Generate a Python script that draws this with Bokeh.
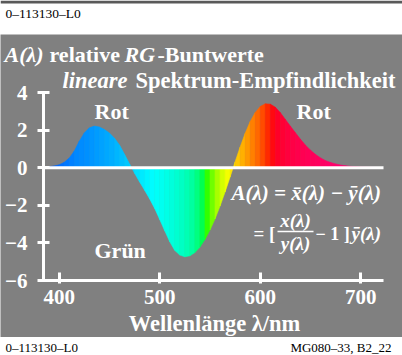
from bokeh.plotting import figure
from bokeh.models import Range1d, Label, FixedTicker, ColumnDataSource
from bokeh.layouts import column
from bokeh.embed import file_html
from bokeh.resources import INLINE

# Relative red-green chromatic values A(lambda), 5 nm steps
wavelengths = list(range(385, 725, 5))
a_values = [
    0.028, 0.051, 0.095, 0.153, 0.288, 0.513, 0.887, 1.411, 1.852,
    2.119, 2.212, 2.164, 2.028, 1.841, 1.569, 1.205, 0.710, 0.201, -0.295,
    -0.757, -1.197, -1.659, -2.163, -2.753, -3.357, -3.938, -4.398, -4.648, -4.736,
    -4.686, -4.512, -4.220, -3.818, -3.318, -2.723, -2.041, -1.291, -0.496, 0.315,
    1.104, 1.831, 2.460, 2.932, 3.256, 3.397, 3.381, 3.219, 2.927, 2.566,
    2.209, 1.856, 1.514, 1.200, 0.932, 0.707, 0.521, 0.377, 0.275, 0.202,
    0.143, 0.099, 0.069, 0.049, 0.035, 0.025, 0.018, 0.013, 0.009,
]
# spectral colour of each 5 nm strip (start wavelength 385 ... 715)
strip_colors = [
    "#0058ff", "#0060ff", "#0068ff", "#0070ff", "#0078ff", "#0080ff", "#0088ff",
    "#008cff", "#0090ff", "#0096ff", "#009cff", "#00a2ff", "#00a8ff", "#00aeff", "#00b6ff",
    "#00beff", "#00c8ff", "#00d4ff", "#00e0ff", "#00eaff", "#00f4ff", "#00fcff", "#00fff8",
    "#00fff0", "#00ffe6", "#00ffdc", "#00ffd0", "#00ffc4", "#00ffb4", "#00ffa0", "#00ff80",
    "#00ff50", "#30ff00", "#70ff00", "#a8ff00", "#d4ff00", "#f4ff00", "#ffe600", "#ffc800",
    "#ffb000", "#ff9800", "#ff8000", "#ff6800", "#ff4c00", "#ff2a00", "#ff0a10", "#ff0028",
    "#ff0034", "#ff003e", "#ff0046", "#ff004c", "#ff0052", "#ff0056", "#ff005a", "#ff005e",
    "#ff0062", "#ff0066", "#ff006a", "#ff006e", "#ff0070", "#ff0072", "#ff0074", "#ff0076",
    "#ff0078", "#ff0078", "#ff0078", "#ff0078",
]
x_ticks = [400, 500, 600, 700]
y_ticks = [-6, -4, -2, 0, 2, 4]
y_tick_labels = {-6: "\u22126", -4: "\u22124", -2: "\u22122", 0: "0", 2: "2", 4: "4"}

X_LO, X_HI = 384.4, 722.6      # extent of the drawn axes (nm)
Y_LO, Y_HI = -6, 4

SERIF = "Liberation Serif"
GRAY = "#808080"
W = 402
BASE_SHIFT = 0.27              # baseline correction, in em


def make_label(x, y, s, size, style="normal", align="left", color="white", **kw):
    return Label(x=x, y=y - BASE_SHIFT * size, text=s, text_font=SERIF,
                 text_font_size=f"{size}px", text_font_style=style, text_color=color,
                 text_align=align, text_baseline="alphabetic", **kw)


# ---------- header strip ----------
head = figure(width=W, height=34, x_range=Range1d(0, W), y_range=Range1d(34, 0),
              x_axis_type=None, y_axis_type=None, toolbar_location=None,
              output_backend="svg", min_border=0, outline_line_color=None,
              background_fill_color="white", border_fill_color="white")
head.xgrid.visible = False
head.ygrid.visible = False
head.quad(left=[0], right=[W], top=[0], bottom=[3], fill_color="#595959", line_color=None)
head.add_layout(make_label(5, 17, "0\u2013113130\u2013L0", 13.5, color="black"))

# ---------- main chart: the frame fills the whole grey panel ----------
p = figure(width=W, height=303, x_range=Range1d(341.6, 741.5), y_range=Range1d(-9.03, 7.085),
           toolbar_location=None, output_backend="svg", min_border=0,
           background_fill_color=GRAY, border_fill_color=GRAY, outline_line_color=None)
p.xgrid.visible = False
p.ygrid.visible = False

# page-pixel helper ranges for text placement
p.extra_x_ranges = {"px": Range1d(0, W)}
p.extra_y_ranges = {"px": Range1d(337, 34)}

xs, ys, cols = [], [], []
for i in range(len(wavelengths) - 1):
    xs.append([wavelengths[i], wavelengths[i], wavelengths[i + 1], wavelengths[i + 1]])
    ys.append([0, a_values[i], a_values[i + 1], 0])
    cols.append(strip_colors[i])
src = ColumnDataSource(dict(xs=xs, ys=ys, color=cols))
p.patches("xs", "ys", source=src, fill_color="color", line_color="color", line_width=0.6)

# zero line
p.segment(x0=[X_LO], y0=[0], x1=[X_HI], y1=[0], line_color="white", line_width=3)

for ax in (p.xaxis[0], p.yaxis[0]):
    ax.axis_line_color = "white"
    ax.axis_line_width = 3
    ax.major_tick_line_color = "white"
    ax.major_tick_line_width = 3
    ax.minor_tick_line_color = None
    ax.major_label_text_color = "white"
    ax.major_label_text_font = SERIF
    ax.major_label_text_font_style = "bold"
    ax.major_label_text_font_size = "21px"

p.xaxis.fixed_location = Y_LO
p.xaxis.bounds = (X_LO, X_HI)
p.xaxis.ticker = FixedTicker(ticks=x_ticks)
p.xaxis.major_tick_in = 8
p.xaxis.major_tick_out = 3
p.xaxis.major_label_standoff = 6

p.yaxis.fixed_location = X_LO
p.yaxis.bounds = (Y_LO, Y_HI)
p.yaxis.ticker = FixedTicker(ticks=y_ticks)
p.yaxis.major_label_overrides = y_tick_labels
p.yaxis.major_tick_in = 6
p.yaxis.major_tick_out = 6
p.yaxis.major_label_standoff = 10


def txt(x, y, s, size=22, style="bold", align="left"):
    p.add_layout(make_label(x, y, s, size, style=style, align=align,
                            x_range_name="px", y_range_name="px"))


# title lines
txt(4, 60, "A(\u03bb)", style="bold italic")
txt(49, 60, "relative", style="bold")
txt(124, 60, "RG", style="bold italic")
txt(157, 60, "-Buntwerte", style="bold")
txt(62, 86, "lineare", size=22.5, style="bold italic")
txt(135, 86, "Spektrum-Empfindlichkeit", size=22.5, style="bold")

# region labels
txt(94, 117, "Rot")
txt(296, 117, "Rot")
txt(94, 256, "Gr\u00fcn")

# formula
txt(231, 198, "A(\u03bb) = x\u0304(\u03bb) \u2212 y\u0304(\u03bb)", size=21, style="bold italic")
txt(253, 238, "= [", size=19)
txt(295, 225, "x(\u03bb)", size=19, style="bold italic", align="center")
txt(295, 248, "y(\u03bb)", size=19, style="bold italic", align="center")
p.segment(x0=[277], y0=[231], x1=[313], y1=[231], x_range_name="px", y_range_name="px",
          line_color="white", line_width=1.5)
txt(315, 238, "\u2212 1 ]", size=18)
txt(351, 238, "y\u0304(\u03bb)", size=19, style="bold italic")

# x axis title
txt(214, 329, "Wellenl\u00e4nge \u03bb/nm", size=22.5, align="center")

# ---------- footer strip ----------
foot = figure(width=W, height=18, x_range=Range1d(0, W), y_range=Range1d(18, 0),
              x_axis_type=None, y_axis_type=None, toolbar_location=None,
              output_backend="svg", min_border=0, outline_line_color=None,
              background_fill_color="white", border_fill_color="white")
foot.xgrid.visible = False
foot.ygrid.visible = False
foot.add_layout(make_label(5, 14, "0\u2013113130\u2013L0", 13, color="black"))
foot.add_layout(make_label(391, 14, "MG080\u201333, B2_22", 13, color="black", align="right"))

layout = column(head, p, foot, spacing=0)
open("out.html", "w").write(file_html(layout, INLINE))
